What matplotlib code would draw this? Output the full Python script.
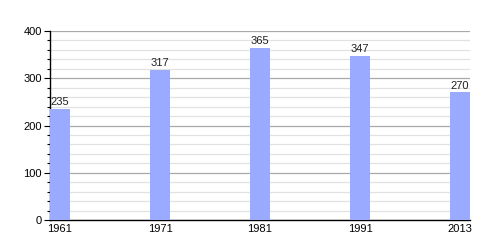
import matplotlib
matplotlib.use("Agg")
import matplotlib.pyplot as plt
from matplotlib.ticker import MultipleLocator

years = ["1961", "1971", "1981", "1991", "2013"]
values = [235, 317, 365, 347, 270]

plt.rcParams['font.family'] = ['Liberation Sans', 'DejaVu Sans']
fig = plt.figure(figsize=(5, 2.5), dpi=100)
ax = fig.add_axes([0.1, 0.12, 0.84, 0.756])

x = list(range(len(years)))
ax.bar(x, values, width=0.2, color='#99aaff', zorder=3)
for xi, v in zip(x, values):
    ax.text(xi, v + 4, str(v), ha='center', va='bottom', fontsize=8, color='#222222', zorder=4)

ax.set_xlim(-0.1, 4.1)
ax.set_ylim(0, 400)
ax.yaxis.set_major_locator(MultipleLocator(100))
ax.yaxis.set_minor_locator(MultipleLocator(20))
ax.grid(axis='y', which='major', color='#a8a8a8', linewidth=0.9, zorder=1)
ax.grid(axis='y', which='minor', color='#e2e2e2', linewidth=0.9, zorder=1)
ax.set_xticks(x)
ax.set_xticklabels(years)
ax.tick_params(axis='x', length=0, pad=3, labelsize=8)
ax.tick_params(axis='y', which='major', length=4, width=0.8, labelsize=8, pad=2)
ax.tick_params(axis='y', which='minor', length=2.5, width=0.8)
for s in ['top', 'right']:
    ax.spines[s].set_visible(False)
ax.spines['left'].set_linewidth(1)
ax.spines['bottom'].set_linewidth(1)
ax.set_axisbelow(True)

fig.savefig('out.png', dpi=100)
